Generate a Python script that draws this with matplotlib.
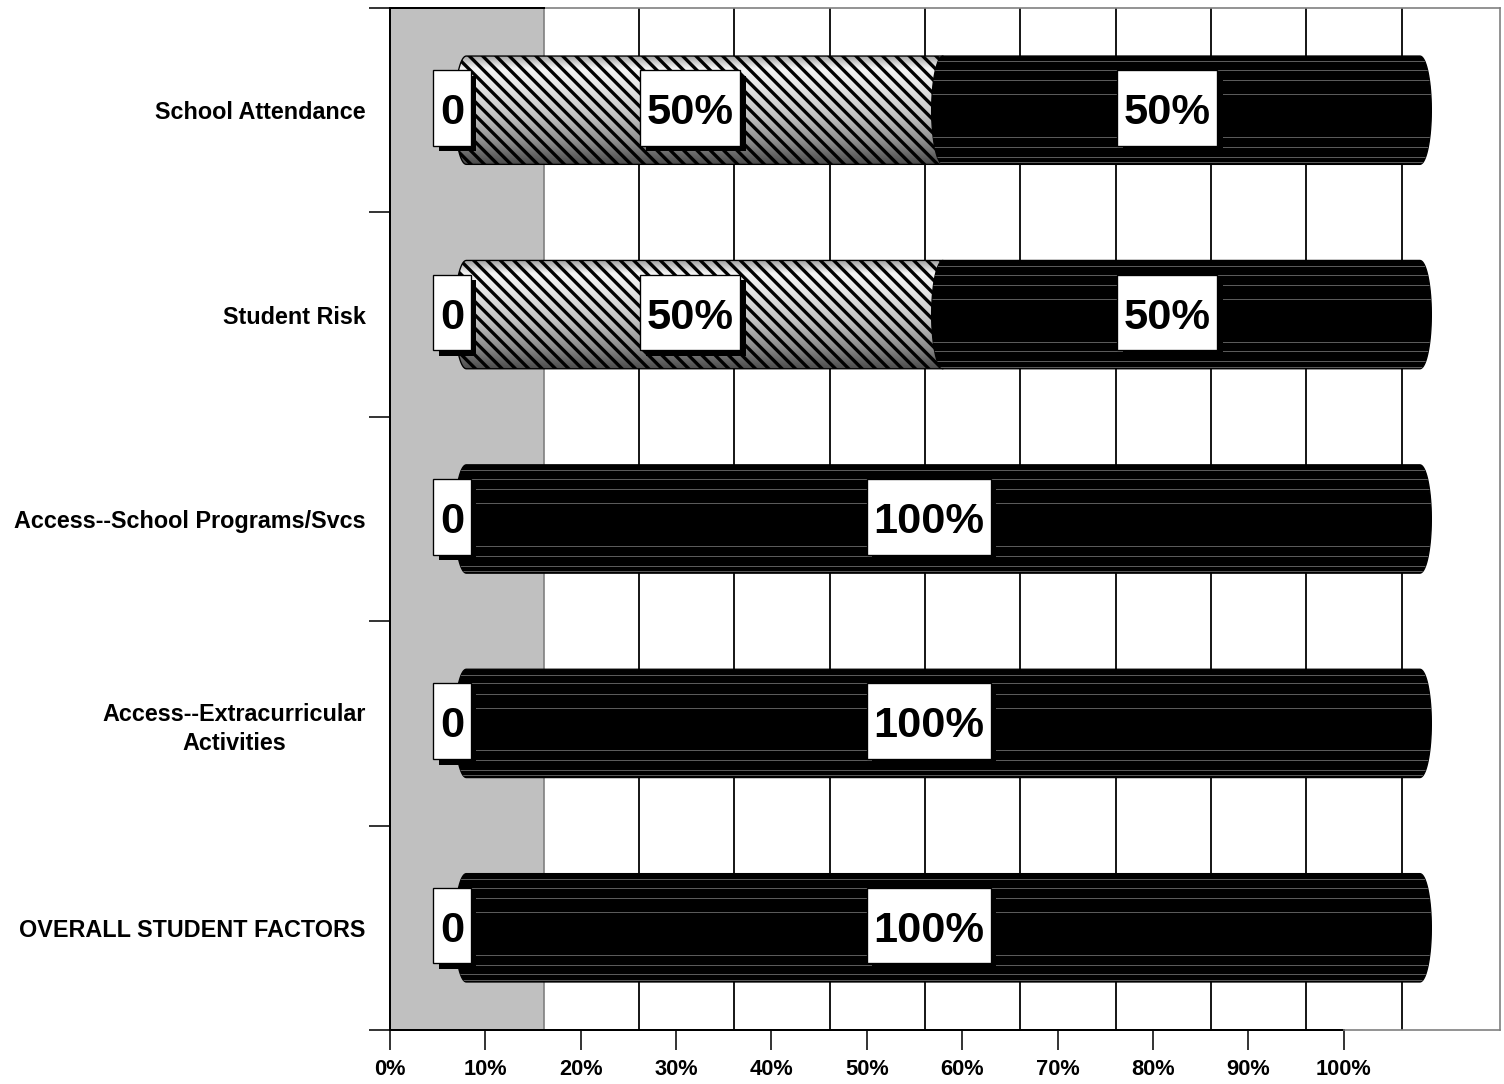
import numpy as np
import matplotlib
matplotlib.use('Agg')
import matplotlib.pyplot as plt
from matplotlib.path import Path
from matplotlib.patches import PathPatch
from matplotlib import patheffects
from matplotlib.colors import LinearSegmentedColormap

categories = ['School Attendance', 'Student Risk', 'Access--School Programs/Svcs',
              'Access--Extracurricular\nActivities', 'OVERALL STUDENT FACTORS']
zero_vals = [0, 0, 0, 0, 0]
partial_vals = [50, 50, 0, 0, 0]
full_vals = [50, 50, 100, 100, 100]
zero_labels = ['0', '0', '0', '0', '0']
partial_labels = ['50%', '50%', '', '', '']
full_labels = ['50%', '50%', '100%', '100%', '100%']
xticks = list(range(0, 101, 10))
xticklabels = ['%d%%' % t for t in xticks]

plt.rcParams['font.family'] = ['Liberation Sans', 'DejaVu Sans']
plt.rcParams['font.weight'] = 'bold'
plt.rcParams['hatch.linewidth'] = 3.0
plt.rcParams['hatch.color'] = 'black'

DPI = 80
fig = plt.figure(figsize=(1504/DPI, 1084/DPI), dpi=DPI)
ax = fig.add_axes([390/1504, 1 - 1030/1084, 1110/1504, 1022/1084])

depth = 16.1       # 3d wall depth in % units
bar_shift = 8.0    # bars sit half way into the depth
label_shift = 6.5
bar_h = 0.53
cap_rx = 1.2
n = len(categories)
ys = np.arange(n) + 0.5

# side wall + back wall grid
ax.axvspan(0, depth, color='#c0c0c0', zorder=0, lw=0)
ax.axvline(depth, color='#808080', lw=1.5, zorder=1)
ax.vlines([t + depth for t in xticks[1:-1]], 0, n, colors='black', lw=1.6, zorder=1)

shade = LinearSegmentedColormap.from_list('cyl', [(0, '#a0a0a0'), (0.12, '#f4f4f4'), (0.3, '#e4e4e4'),
                                                  (0.55, '#c4c4c4'), (0.8, '#8c8c8c'), (1, '#4c4c4c')])
grad = np.linspace(0, 1, 200).reshape(-1, 1)
stripe_fr = [0.05, 0.13, 0.225, 0.355, 0.75, 0.84, 0.93, 0.98]


def seg_path(x0, x1, yc, round_right):
    t = np.linspace(-np.pi/2, np.pi/2, 40)
    top, bot = yc - bar_h/2, yc + bar_h/2
    verts = [(x0, top), (x1, top)]
    if round_right:
        verts += list(zip(x1 + cap_rx*np.cos(t), yc + bar_h/2*np.sin(t)))
    verts += [(x1, bot), (x0, bot)]
    verts += list(zip(x0 - cap_rx*np.cos(t), yc - bar_h/2*np.sin(t)))
    return Path(verts, closed=True)


def label_box(x0, y0, width, height, mutation_size):
    px = 0.15 * mutation_size
    pb = 0.29 * mutation_size
    pt = 0.53 * mutation_size
    return Path([(x0-px, y0-pb), (x0+width+px, y0-pb), (x0+width+px, y0+height+pt),
                 (x0-px, y0+height+pt), (x0-px, y0-pb)], closed=True)


for i in range(n):
    yc = ys[i]
    segs = [(zero_vals[i], zero_labels[i], None),
            (partial_vals[i], partial_labels[i], 'hatch'),
            (full_vals[i], full_labels[i], 'black')]
    last = max(k for k, s in enumerate(segs) if s[0] > 0)
    left = 0
    for k, (v, lab, style) in enumerate(segs):
        x0 = bar_shift + left
        x1 = x0 + v
        if v > 0:
            path = seg_path(x0, x1, yc, k == last)
            if style == 'hatch':
                base = PathPatch(path, fc='none', ec='none', zorder=2)
                ax.add_patch(base)
                im = ax.imshow(grad, cmap=shade, aspect='auto', zorder=2,
                               extent=(x0 - cap_rx, x1 + cap_rx, yc + bar_h/2, yc - bar_h/2))
                im.set_clip_path(base)
                ax.add_patch(PathPatch(path, fc='none', ec='black', lw=1.2, hatch='\\\\', zorder=3))
            else:
                body = PathPatch(path, fc='black', ec='black', lw=1.2, zorder=3)
                ax.add_patch(body)
                lc = ax.hlines([yc - bar_h/2 + f*bar_h for f in stripe_fr], x0 - cap_rx, x1 + cap_rx,
                               colors='#5a5a5a', lw=0.9, zorder=3)
                lc.set_clip_path(body)
        if lab:
            txt = ax.text(label_shift + left + v/2, yc + 0.015, lab, ha='center', va='center',
                          fontsize=39, fontweight='bold', zorder=6,
                          bbox=dict(boxstyle=label_box, fc='white', ec='black', lw=1.2))
            txt.get_bbox_patch().set_path_effects([
                patheffects.SimplePatchShadow(offset=(5, -5), shadow_rgbFace='black', alpha=1.0),
                patheffects.Normal()])
        left += v

ax.set_xlim(0, 116.4)
ax.set_ylim(n, 0)

ax.set_xticks(xticks)
ax.set_xticklabels(xticklabels, fontsize=19.7, fontweight='bold')
ax.tick_params(axis='x', length=18, width=1.4, pad=8, color='black')
ax.set_yticks(range(n + 1))
ax.set_yticklabels([])
ax.tick_params(axis='y', which='major', length=19, width=1.4)
ax.set_yticks(ys, minor=True)
ax.set_yticklabels(categories, minor=True, fontsize=21, fontweight='bold')
ax.tick_params(axis='y', which='minor', length=0, pad=22)
for lbl in ax.get_yticklabels(minor=True):
    lbl.set_multialignment('center')
    lbl.set_linespacing(1.35)

ax.spines['left'].set_color('black')
ax.spines['left'].set_linewidth(1.8)
ax.spines['bottom'].set_bounds(0, 100)
ax.spines['bottom'].set_linewidth(1.8)
ax.spines['top'].set_color('#808080')
ax.spines['top'].set_linewidth(1.5)
ax.spines['right'].set_color('#808080')
ax.spines['right'].set_linewidth(1.5)
ax.plot([100, 116.4], [n, n], color='#808080', lw=1.5, clip_on=False, zorder=4)
ax.plot([0, depth], [0, 0], color='black', lw=1.8, clip_on=False, zorder=4)

fig.savefig('out.png', dpi=DPI)
